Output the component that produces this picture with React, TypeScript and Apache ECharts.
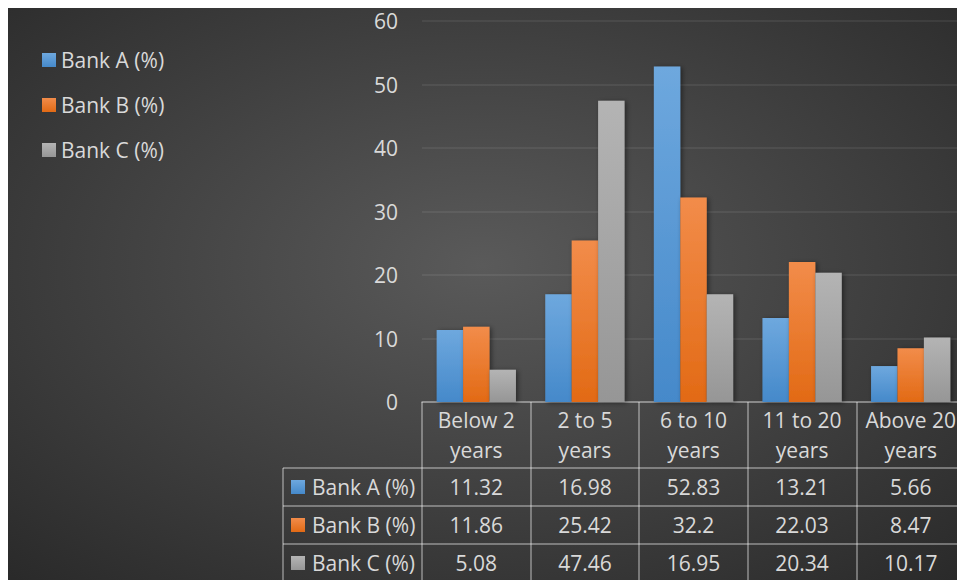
import React, { useEffect, useRef } from "react";
import * as echarts from "echarts";

// Tenure bands and the share of each bank's staff in them
const categories = [
  "Below 2\nyears",
  "2 to 5\nyears",
  "6 to 10\nyears",
  "11 to 20\nyears",
  "Above 20\nyears",
];
const seriesNames = ["Bank A (%)", "Bank B (%)", "Bank C (%)"];
const bankA = [11.32, 16.98, 52.83, 13.21, 5.66];
const bankB = [11.86, 25.42, 32.2, 22.03, 8.47];
const bankC = [5.08, 47.46, 16.95, 20.34, 10.17];
const yMin = 0;
const yMax = 60;
const yStep = 10;

const W = 949;
const H = 572;
const FONT = "'Open Sans', 'Noto Sans', sans-serif";
const FS = 21;
const TEXT = "#d9d9d9";
const BORDER = "rgba(255,255,255,0.45)";

const grad = (top: string, bottom: string) =>
  new echarts.graphic.LinearGradient(0, 0, 0, 1, [
    { offset: 0, color: top },
    { offset: 1, color: bottom },
  ]);

const palettes: [string, string][] = [
  ["#6ea8de", "#4589ca"],
  ["#f28c4a", "#e26a15"],
  ["#b4b4b4", "#969696"],
];

export default function App() {
  const ref = useRef<HTMLDivElement>(null);

  useEffect(() => {
    // the chart fills the window up to its edges; keep scrollbars away
    document.documentElement.style.overflow = "hidden";
    document.body.style.overflow = "hidden";
    if (!ref.current) return;
    const chart = echarts.init(ref.current, undefined, {
      renderer: "svg",
      width: W,
      height: H,
    });
    const values = [bankA, bankB, bankC];

    chart.setOption({
      animation: false,
      textStyle: { fontFamily: FONT },
      legend: {
        orient: "vertical",
        left: 29,
        top: 35,
        itemWidth: 14,
        itemHeight: 14,
        itemGap: 21,
        icon: "rect",
        data: seriesNames,
        textStyle: { color: TEXT, fontSize: FS, lineHeight: 24, fontFamily: FONT },
      },
      // the plot runs a little past the right edge, so the last column is cut
      grid: {
        left: 414,
        top: 13,
        bottom: 178,
        width: 543,
        containLabel: false,
        outerBoundsMode: "none",
      },
      xAxis: {
        type: "category",
        data: categories,
        axisLine: { show: true, lineStyle: { color: BORDER, width: 1.5 } },
        axisTick: {
          show: true,
          interval: 0,
          length: 190,
          alignWithLabel: false,
          lineStyle: { color: BORDER, width: 1.5 },
        },
        axisLabel: {
          interval: 0,
          color: TEXT,
          fontSize: FS,
          lineHeight: 30,
          margin: 3,
          fontFamily: FONT,
          hideOverlap: false,
        },
      },
      yAxis: {
        type: "value",
        min: yMin,
        max: yMax,
        interval: yStep,
        axisLine: { show: false },
        axisTick: { show: false },
        axisLabel: { color: TEXT, fontSize: FS, margin: 24, fontFamily: FONT },
        splitLine: { lineStyle: { color: "rgba(255,255,255,0.09)", width: 1.5 } },
      },
      series: seriesNames.map((name, i) => ({
        name,
        type: "bar",
        data: values[i],
        barGap: "0%",
        barCategoryGap: "27%",
        itemStyle: {
          color: grad(palettes[i][0], palettes[i][1]),
          shadowColor: "rgba(0,0,0,0.45)",
          shadowBlur: 5,
          shadowOffsetX: 2,
          shadowOffsetY: 1,
        },
      })),
    });

    // Data table under the axis, laid out on the category axis positions
    const y0 = chart.convertToPixel({ yAxisIndex: 0 }, 0) as number;
    const headerH = 66;
    const rowH = 38;
    const tableLeft = 275;
    const rowsTop = y0 + headerH;
    const els: any[] = [
      {
        type: "rect",
        z: -10,
        silent: true,
        shape: { x: 0, y: 0, width: W, height: H },
        style: {
          fill: new echarts.graphic.RadialGradient(0.5, 0.45, 0.8, [
            { offset: 0, color: "#5a5a5a" },
            { offset: 1, color: "#262626" },
          ]),
        },
      },
      {
        type: "line",
        silent: true,
        shape: { x1: tableLeft, y1: rowsTop, x2: tableLeft, y2: H + 10 },
        style: { stroke: BORDER, lineWidth: 1.5 },
      },
    ];
    for (let r = 0; r < seriesNames.length; r++) {
      const top = rowsTop + r * rowH;
      const cy = top + rowH / 2;
      els.push({
        type: "line",
        silent: true,
        shape: { x1: tableLeft, y1: top, x2: W + 20, y2: top },
        style: { stroke: BORDER, lineWidth: 1.5 },
      });
      els.push({
        type: "rect",
        silent: true,
        shape: { x: tableLeft + 8, y: cy - 7, width: 14, height: 14 },
        style: { fill: grad(palettes[r][0], palettes[r][1]) },
      });
      els.push({
        type: "text",
        silent: true,
        x: tableLeft + 29,
        y: cy,
        style: {
          text: seriesNames[r],
          fill: TEXT,
          font: `${FS}px ${FONT}`,
          verticalAlign: "middle",
          textAlign: "left",
        },
      });
      values[r].forEach((v, c) => {
        const cx = chart.convertToPixel({ xAxisIndex: 0 }, c) as number;
        els.push({
          type: "text",
          silent: true,
          x: cx,
          y: cy,
          style: {
            text: String(v),
            fill: TEXT,
            font: `${FS}px ${FONT}`,
            verticalAlign: "middle",
            textAlign: "center",
          },
        });
      });
    }
    chart.setOption({ graphic: { elements: els } });

    return () => chart.dispose();
  }, []);

  return (
    <div
      ref={ref}
      style={{
        position: "fixed",
        left: 8,
        top: 8,
        width: W,
        height: H,
        background: "#262626",
        overflow: "hidden",
      }}
    />
  );
}
